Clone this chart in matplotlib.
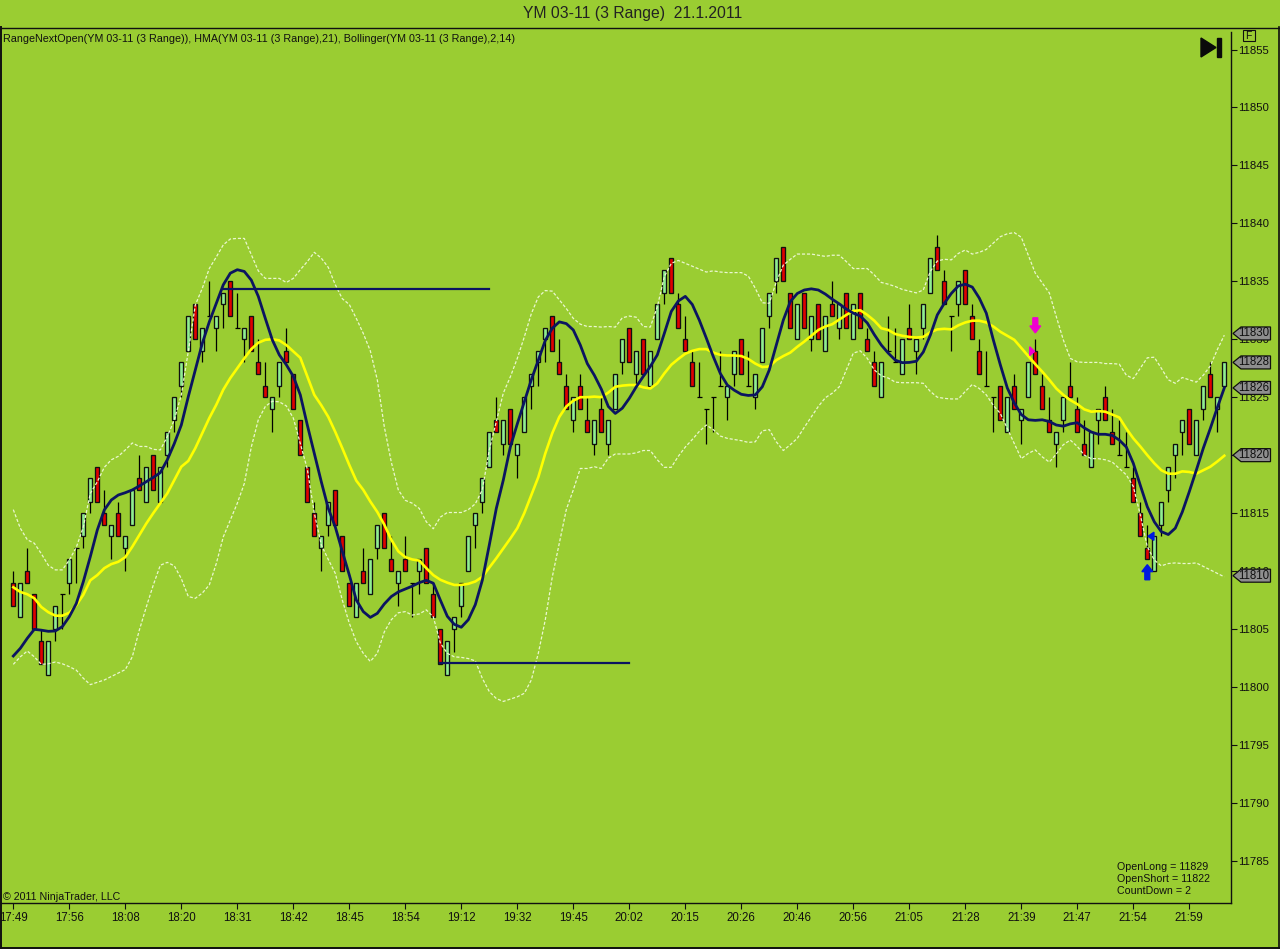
import matplotlib
matplotlib.use("Agg")
import matplotlib.pyplot as plt
from matplotlib.lines import Line2D
from matplotlib.patches import Polygon, Rectangle

plt.rcParams['font.family'] = ['Liberation Sans', 'DejaVu Sans']

opens = [
    11809, 11806, 11810, 11808, 11804, 11801, 11805, 11808, 11809, 11812,
    11813, 11816, 11819, 11815, 11813, 11815, 11812, 11814, 11818, 11816,
    11820, 11816, 11820, 11823, 11826, 11829, 11833, 11829, 11832, 11831,
    11833, 11835, 11831, 11830, 11832, 11828, 11826, 11824, 11826, 11829,
    11827, 11823, 11819, 11815, 11812, 11814, 11817, 11813, 11809, 11806,
    11810, 11808, 11812, 11815, 11811, 11809, 11811, 11809, 11810, 11812,
    11808, 11805, 11801, 11805, 11807, 11810, 11814, 11816, 11819, 11823,
    11821, 11824, 11820, 11822, 11826, 11828, 11830, 11832, 11828, 11826,
    11823, 11826, 11823, 11821, 11824, 11821, 11824, 11828, 11831, 11827,
    11830, 11826, 11830, 11834, 11837, 11833, 11830, 11828, 11825, 11824,
    11825, 11826, 11825, 11827, 11830, 11826, 11825, 11828, 11832, 11835,
    11838, 11834, 11830, 11834, 11830, 11833, 11829, 11833, 11831, 11834,
    11830, 11834, 11830, 11828, 11825, 11829, 11828, 11827, 11831, 11829,
    11831, 11834, 11838, 11835, 11832, 11833, 11836, 11832, 11829, 11826,
    11825, 11826, 11822, 11826, 11823, 11825, 11829, 11826, 11823, 11821,
    11823, 11826, 11824, 11821, 11819, 11823, 11825, 11822, 11820, 11819,
    11818, 11815, 11812, 11810, 11814, 11817, 11820, 11822, 11824, 11820,
    11824, 11827, 11824, 11826,
]
closes = [
    11807, 11809, 11809, 11805, 11802, 11804, 11807, 11808, 11811, 11812,
    11815, 11818, 11816, 11814, 11814, 11813, 11813, 11817, 11817, 11819,
    11817, 11819, 11822, 11825, 11828, 11832, 11830, 11831, 11832, 11832,
    11834, 11832, 11831, 11831, 11829, 11827, 11825, 11825, 11828, 11828,
    11824, 11820, 11816, 11813, 11813, 11816, 11814, 11810, 11807, 11809,
    11809, 11811, 11814, 11812, 11810, 11810, 11810, 11809, 11811, 11809,
    11806, 11802, 11804, 11806, 11809, 11813, 11815, 11818, 11822, 11822,
    11823, 11821, 11821, 11825, 11827, 11829, 11831, 11829, 11827, 11824,
    11825, 11824, 11822, 11823, 11822, 11823, 11827, 11830, 11828, 11829,
    11827, 11829, 11833, 11836, 11834, 11831, 11829, 11826, 11825, 11824,
    11825, 11826, 11826, 11829, 11827, 11826, 11827, 11831, 11834, 11837,
    11835, 11831, 11833, 11831, 11832, 11830, 11832, 11832, 11833, 11831,
    11833, 11831, 11829, 11826, 11828, 11829, 11828, 11830, 11830, 11830,
    11833, 11837, 11836, 11833, 11832, 11835, 11833, 11830, 11827, 11826,
    11825, 11823, 11825, 11824, 11824, 11828, 11827, 11824, 11822, 11822,
    11825, 11825, 11822, 11820, 11822, 11824, 11823, 11821, 11820, 11819,
    11816, 11813, 11811, 11813, 11816, 11819, 11821, 11823, 11821, 11823,
    11826, 11825, 11825, 11828,
]
highs = [
    11810, 11809, 11812, 11808, 11805, 11804, 11807, 11808, 11811, 11812,
    11815, 11818, 11819, 11817, 11814, 11816, 11813, 11817, 11820, 11819,
    11820, 11819, 11822, 11825, 11828, 11832, 11833, 11831, 11835, 11832,
    11834, 11835, 11834, 11831, 11832, 11830, 11828, 11825, 11828, 11831,
    11827, 11823, 11819, 11816, 11813, 11816, 11817, 11813, 11809, 11809,
    11812, 11811, 11814, 11815, 11813, 11810, 11813, 11809, 11811, 11812,
    11809, 11805, 11804, 11806, 11809, 11813, 11815, 11818, 11822, 11825,
    11823, 11824, 11821, 11825, 11827, 11829, 11831, 11832, 11830, 11827,
    11825, 11827, 11825, 11823, 11825, 11823, 11827, 11830, 11831, 11829,
    11830, 11829, 11833, 11836, 11837, 11834, 11832, 11829, 11828, 11824,
    11825, 11829, 11826, 11829, 11830, 11829, 11827, 11831, 11834, 11837,
    11838, 11834, 11833, 11834, 11832, 11833, 11832, 11835, 11833, 11834,
    11833, 11834, 11831, 11829, 11828, 11832, 11831, 11830, 11833, 11830,
    11833, 11837, 11839, 11836, 11832, 11835, 11836, 11833, 11830, 11829,
    11825, 11826, 11825, 11827, 11824, 11828, 11830, 11827, 11825, 11822,
    11825, 11828, 11825, 11823, 11822, 11824, 11826, 11824, 11823, 11822,
    11819, 11816, 11814, 11813, 11816, 11819, 11821, 11823, 11824, 11823,
    11826, 11828, 11825, 11828,
]
lows = [
    11807, 11806, 11809, 11805, 11802, 11801, 11804, 11805, 11808, 11809,
    11812, 11815, 11816, 11814, 11811, 11813, 11810, 11814, 11817, 11816,
    11817, 11816, 11819, 11822, 11825, 11829, 11830, 11828, 11832, 11829,
    11831, 11832, 11831, 11828, 11829, 11827, 11825, 11822, 11825, 11828,
    11824, 11820, 11816, 11813, 11810, 11813, 11814, 11810, 11807, 11806,
    11809, 11808, 11811, 11812, 11810, 11807, 11810, 11806, 11808, 11809,
    11806, 11802, 11801, 11803, 11806, 11810, 11812, 11815, 11819, 11822,
    11820, 11821, 11818, 11822, 11824, 11826, 11828, 11829, 11827, 11824,
    11822, 11824, 11822, 11820, 11822, 11820, 11824, 11827, 11828, 11826,
    11827, 11826, 11830, 11833, 11834, 11831, 11829, 11826, 11825, 11821,
    11822, 11826, 11823, 11826, 11827, 11826, 11824, 11828, 11831, 11834,
    11835, 11831, 11830, 11831, 11829, 11830, 11829, 11832, 11830, 11831,
    11830, 11831, 11829, 11826, 11825, 11829, 11828, 11827, 11830, 11827,
    11830, 11834, 11836, 11833, 11829, 11832, 11833, 11830, 11827, 11826,
    11822, 11823, 11822, 11824, 11821, 11825, 11827, 11824, 11822, 11819,
    11822, 11825, 11822, 11820, 11819, 11821, 11823, 11821, 11820, 11819,
    11816, 11813, 11811, 11810, 11813, 11816, 11818, 11820, 11821, 11820,
    11823, 11825, 11822, 11826,
]

navy_line = [
    11802.67, 11803.33, 11804.2, 11804.97, 11804.9, 11804.8, 11804.83, 11805.2, 11806.06, 11807.2,
    11809.08, 11811.24, 11813.54, 11815.27, 11816.13, 11816.56, 11816.76, 11817, 11817.34, 11817.71,
    11818.08, 11818.49, 11819.6, 11821, 11822.6, 11825.05, 11827.35, 11829.65, 11831.5, 11833.1,
    11834.7, 11835.7, 11836, 11835.85, 11835.1, 11833.7, 11831.8, 11829.95, 11828.65, 11827.8,
    11826.8, 11825.2, 11822.6, 11820.15, 11817.7, 11815.4, 11813.8, 11811.7, 11809.66, 11807.5,
    11806.5, 11806, 11806.35, 11807.16, 11807.8, 11808.2, 11808.45, 11808.7, 11809, 11809.2,
    11808.95, 11807.5, 11806.1, 11805.4, 11805.15, 11805.8, 11807.1, 11809.2, 11812.25, 11815.4,
    11817.85, 11820.7, 11822.7, 11824.6, 11826.5, 11828.2, 11829.9, 11830.95, 11831.5, 11831.35,
    11830.8, 11829.5, 11827.9, 11826.9, 11825.7, 11824.2, 11823.6, 11824.05, 11824.9, 11825.9,
    11826.8, 11827.65, 11828.65, 11830.5, 11832.4, 11833.3, 11833.7, 11833, 11831.65, 11830.1,
    11828.5, 11827.05, 11826.05, 11825.6, 11825.25, 11825.15, 11825.2, 11825.9, 11827.35, 11829.5,
    11831.65, 11833.25, 11833.95, 11834.25, 11834.35, 11834.25, 11833.9, 11833.45, 11833.05, 11832.6,
    11832.25, 11832, 11831.4, 11830.4, 11829.5, 11828.8, 11828.2, 11827.98, 11828, 11828.1,
    11828.9, 11830.35, 11832.1, 11833.1, 11833.95, 11834.6, 11834.75, 11834.5, 11833.55, 11832.25,
    11829.95, 11827.8, 11825.8, 11824.5, 11823.5, 11823.05, 11823, 11823.05, 11822.9, 11822.6,
    11822.5, 11822.7, 11822.8, 11822.35, 11822, 11821.8, 11821.8, 11821.7, 11821.3, 11820.7,
    11819.3, 11817.4, 11815.55, 11814.25, 11813.4, 11813.15, 11813.7, 11815.1, 11816.85, 11818.7,
    11820.6, 11822.3, 11824.1, 11825.8,
]
yellow_line = [
    11808.6, 11808.2, 11808, 11807.65, 11806.9, 11806.45, 11806.15, 11806.15, 11806.4, 11807.05,
    11807.95, 11809.2, 11809.65, 11810.25, 11810.6, 11810.8, 11811.2, 11812.1, 11813.1, 11814.1,
    11815, 11815.85, 11816.7, 11817.85, 11819, 11819.5, 11820.6, 11821.9, 11823.2, 11824.35,
    11825.65, 11826.65, 11827.5, 11828.35, 11829.15, 11829.7, 11829.95, 11830, 11829.9, 11829.5,
    11828.95, 11828.4, 11826.8, 11825.2, 11824.3, 11823.3, 11822, 11820.6, 11819.15, 11817.8,
    11817, 11816, 11815.1, 11814, 11812.7, 11811.7, 11811.2, 11811, 11810.9, 11810.25,
    11809.65, 11809.25, 11809, 11808.8, 11808.8, 11808.9, 11809.1, 11809.5, 11810.3, 11811.1,
    11811.95, 11812.8, 11813.7, 11815, 11816.55, 11818.1, 11820.15, 11821.9, 11823.3, 11824.2,
    11824.7, 11825, 11825, 11825.05, 11825, 11825.4, 11825.9, 11826, 11826.05, 11826.05,
    11825.85, 11825.75, 11826.2, 11827.05, 11827.8, 11828.3, 11828.75, 11829, 11829.15, 11829.15,
    11828.85, 11828.65, 11828.6, 11828.6, 11828.55, 11828.3, 11827.9, 11827.6, 11827.65, 11828.2,
    11828.55, 11828.85, 11829.35, 11829.8, 11830.3, 11830.8, 11831.1, 11831.3, 11831.7, 11832.1,
    11832.45, 11832.5, 11832.1, 11831.6, 11830.95, 11830.8, 11830.45, 11830.3, 11830.2, 11830.15,
    11830.2, 11830.6, 11830.85, 11830.9, 11830.85, 11831.2, 11831.45, 11831.6, 11831.6, 11831.45,
    11831.1, 11830.65, 11830.3, 11829.95, 11829.25, 11828.55, 11827.85, 11827.2, 11826.5, 11825.75,
    11825.2, 11824.75, 11824.4, 11823.95, 11823.75, 11823.8, 11823.75, 11823.5, 11823.25, 11822.3,
    11821.45, 11820.75, 11820, 11819.3, 11818.7, 11818.4, 11818.4, 11818.6, 11818.55, 11818.4,
    11818.7, 11819, 11819.45, 11819.95,
]
upper_band = [
    11815.3, 11813.7, 11812.7, 11812.4, 11811.5, 11810.5, 11810.1, 11810.1, 11810.95, 11812.05,
    11813.8, 11816.7, 11817.7, 11818.95, 11819.6, 11819.9, 11820.45, 11821.05, 11820.75, 11820.75,
    11820.5, 11820.45, 11821.6, 11823.05, 11825.2, 11828.95, 11832.95, 11834.4, 11836.1, 11837.1,
    11838.15, 11838.65, 11838.7, 11838.7, 11837.3, 11835.9, 11835.25, 11835.25, 11835.25, 11834.9,
    11835.25, 11836, 11836.7, 11837.5, 11837, 11836.2, 11834.7, 11833.5, 11833, 11831.8,
    11830.5, 11829, 11826.5, 11822.45, 11819.4, 11817, 11816.1, 11815.85, 11815.4, 11814.25,
    11813.65, 11814.65, 11815.05, 11815.05, 11815.05, 11815.3, 11815.8, 11817, 11820.45, 11822.9,
    11825.35, 11826.75, 11828.35, 11830.2, 11832.2, 11833.65, 11834.2, 11834.15, 11833.4, 11832.65,
    11831.8, 11831.3, 11831.1, 11831.1, 11831.05, 11831.1, 11831.05, 11831.85, 11832, 11831.9,
    11831.1, 11831.05, 11832.8, 11835.4, 11836.55, 11836.8, 11836.55, 11836.3, 11836.05, 11835.8,
    11835.9, 11835.8, 11835.75, 11835.75, 11835.75, 11835.45, 11834.4, 11833.15, 11833.1, 11834.95,
    11836.4, 11836.9, 11837.35, 11837.35, 11837.35, 11837.25, 11837.15, 11837.25, 11837.25, 11836.7,
    11836.1, 11836.1, 11836.1, 11835.55, 11834.9, 11834.75, 11834.55, 11834.3, 11834.15, 11834,
    11834.25, 11835.85, 11836.75, 11836.9, 11836.85, 11837.4, 11837.7, 11837.35, 11837.5, 11837.75,
    11838.3, 11838.85, 11839.1, 11839.2, 11838.8, 11837.25, 11835.7, 11834.85, 11834, 11831.95,
    11829.95, 11828.35, 11828.05, 11828, 11828, 11828, 11827.9, 11827.9, 11827.85, 11826.9,
    11826.6, 11827.5, 11828.4, 11828.45, 11827.5, 11826.5, 11826.2, 11826.7, 11826.5, 11826.3,
    11826.9, 11827.7, 11829.1, 11830.35,
]
lower_band = [
    11801.95, 11802.6, 11803.1, 11802.6, 11801.95, 11802, 11802.15, 11802, 11801.75, 11801.45,
    11800.75, 11800.2, 11800.4, 11800.6, 11800.9, 11801.2, 11801.5, 11802.6, 11804.9, 11806.9,
    11808.8, 11810.5, 11810.75, 11810.45, 11809.35, 11807.8, 11807.65, 11808.1, 11808.8, 11810.65,
    11812.95, 11814.4, 11815.85, 11817.55, 11820.7, 11823.05, 11824.2, 11824.65, 11824.6, 11824.25,
    11823.2, 11821, 11818.8, 11815, 11812.25, 11811, 11809.8, 11807.5, 11805.5, 11803.9,
    11802.9, 11802.2, 11802.9, 11804.75, 11805.8, 11806.4, 11806.5, 11806.2, 11806.3, 11806.65,
    11806.05, 11803.8, 11802.9, 11802.6, 11802.55, 11802.45, 11802.25, 11800.75, 11799.6, 11799,
    11798.75, 11798.95, 11799.15, 11799.45, 11800.6, 11802.9, 11805.8, 11809.5, 11812.4, 11815.3,
    11817, 11818.85, 11818.85, 11819, 11818.85, 11819.75, 11820.1, 11820.1, 11820.1, 11820.2,
    11820.4, 11820.4, 11819.6, 11818.95, 11818.95, 11819.9, 11820.7, 11821.35, 11822.05, 11822.6,
    11822.2, 11821.65, 11821.45, 11821.35, 11821.25, 11821.1, 11821.15, 11822.1, 11822.2, 11821.15,
    11820.4, 11820.9, 11821.45, 11822.4, 11823.3, 11824.2, 11824.95, 11825.35, 11825.9, 11827.35,
    11828.8, 11829, 11828.35, 11827.35, 11826.85, 11826.65, 11826.3, 11826.25, 11826.25, 11826.25,
    11826.2, 11825.5, 11825, 11824.9, 11824.85, 11824.85, 11825.5, 11826.1, 11825.75, 11825.2,
    11824.3, 11823.6, 11822.3, 11821, 11819.7, 11820.15, 11820.45, 11819.85, 11819.4, 11820.1,
    11820.9, 11821.3, 11820.75, 11820, 11819.7, 11819.7, 11819.6, 11819.4, 11818.85, 11818.3,
    11817.3, 11814.85, 11812.1, 11810.95, 11810.45, 11810.65, 11810.7, 11810.65, 11810.65, 11810.7,
    11810.4, 11810.1, 11809.8, 11809.5,
]

time_labels = ["17:49", "17:56", "18:08", "18:20", "18:31", "18:42", "18:45", "18:54",
               "19:12", "19:32", "19:45", "20:02", "20:15", "20:26", "20:46", "20:56",
               "21:05", "21:28", "21:39", "21:47", "21:54", "21:59"]
price_ticks = list(range(11785, 11860, 5))
tag_prices = [11830.5, 11828.0, 11825.8, 11820.0, 11809.6]
tag_labels = ["11830", "11828", "11826", "11820", "11810"]

BG = '#9ACD32'
NAVY = '#0B1560'
INK = '#101010'
W, H = 1280, 949
LEFT, RIGHT, TOP, BOTTOM = 0, 1231, 27, 903


# pixel position of the first bar and spacing, used to set the limits
def bar_x(px):
    return (px - 13.3) / 7.0


def price_y(py):
    return 11855 - (py - 49.5) / 11.59


fig = plt.figure(figsize=(W / 100, H / 100), dpi=100, facecolor=BG)
ax = fig.add_axes([LEFT / W, 1 - BOTTOM / H, (RIGHT - LEFT) / W, (BOTTOM - TOP) / H], facecolor=BG)
ax.set_xlim(bar_x(LEFT), bar_x(RIGHT))
ax.set_ylim(price_y(BOTTOM), price_y(TOP))

# candles
for i in range(len(opens)):
    ax.vlines(i, lows[i], highs[i], color='black', lw=0.9, zorder=2)
    if closes[i] == opens[i]:
        ax.hlines(opens[i], i - 0.36, i + 0.36, color='black', lw=0.9, zorder=2)
    else:
        col = '#90EE90' if closes[i] > opens[i] else '#E00000'
        ax.bar(i, abs(closes[i] - opens[i]), bottom=min(opens[i], closes[i]), width=0.62,
               color=col, edgecolor=INK, linewidth=0.95, zorder=3)

xs = list(range(len(opens)))
ax.plot(xs, upper_band, color='#EAF7CF', lw=0.9, ls=(0, (2.5, 1.5)), zorder=4)
ax.plot(xs, lower_band, color='#EAF7CF', lw=0.9, ls=(0, (2.5, 1.5)), zorder=4)
ax.plot(xs, yellow_line, color='#FFFF00', lw=1.9, zorder=5)
ax.plot(xs, navy_line, color=NAVY, lw=2.0, zorder=6)

# the two horizontal levels
ax.plot([30, 68], [11834.3, 11834.3], color=NAVY, lw=1.6, zorder=6)
ax.plot([61, 88], [11802.05, 11802.05], color=NAVY, lw=1.6, zorder=6)

# signal arrows
ax.arrow(146, 11831.85, 0, -1.3, width=0.7, head_width=1.55, head_length=0.6,
         length_includes_head=True, color='#F000D0', zorder=7)
ax.arrow(162, 11809.25, 0, 1.3, width=0.7, head_width=1.55, head_length=0.6,
         length_includes_head=True, color='#0018E0', zorder=7)
ax.add_patch(Polygon([(145.2, 11829.35), (145.2, 11828.6), (145.9, 11828.95)], color='#F000D0', zorder=7))
ax.add_patch(Polygon([(162.95, 11813.35), (162.95, 11812.65), (162.1, 11813.0)], color='#0018E0', zorder=7))

ax.set_xticks(range(0, 8 * len(time_labels), 8))
ax.set_xticklabels(time_labels)
ax.yaxis.tick_right()
ax.set_yticks(price_ticks)
ax.set_yticklabels([str(p) for p in price_ticks])
ax.tick_params(axis='x', length=4.3, width=0.8, labelsize=8.3, pad=2.5, colors=INK)
ax.tick_params(axis='y', length=4.3, width=0.8, labelsize=8.2, pad=0.5, colors=INK)
for s in ax.spines.values():
    s.set_linewidth(1.0)
    s.set_color(INK)
ax.spines['top'].set_visible(False)
ax.spines['left'].set_visible(False)
ax.spines['right'].set_bounds(price_y(BOTTOM), price_y(32))

# right side price tags, drawn over the tick labels
half_h = 6.5 / 11.59
for p, lab in zip(tag_prices, tag_labels):
    x0, x1, x2 = bar_x(1233), bar_x(1241), bar_x(1270.5)
    ax.add_patch(Polygon([(x0, p), (x1, p + half_h), (x2, p + half_h), (x2, p - half_h), (x1, p - half_h)],
                         facecolor='#8E8E8E', edgecolor=INK, lw=0.9, clip_on=False, zorder=8))
    ax.text(bar_x(1254), p, lab, fontsize=8.3, color=INK, ha='center', va='center',
            clip_on=False, zorder=9)

# frame lines outside the axes
tr = fig.transFigure
fig.add_artist(Line2D([0, 1], [1 - 27.5 / H, 1 - 27.5 / H], color=INK, lw=1.0, transform=tr))
fig.add_artist(Line2D([0.6 / W, 0.6 / W], [1 - 27 / H, 0], color=INK, lw=1.4, transform=tr))
fig.add_artist(Line2D([0, 1], [0.8 / H, 0.8 / H], color=INK, lw=1.4, transform=tr))
fig.add_artist(Line2D([1 - 0.6 / W, 1 - 0.6 / W], [1 - 27 / H, 0], color=INK, lw=1.2, transform=tr))

# end-of-chart button and the F box
ax_px = fig.add_axes([0, 0, 1, 1], facecolor='none')
ax_px.set_xlim(0, W)
ax_px.set_ylim(H, 0)
ax_px.axis('off')
ax_px.add_patch(Polygon([(1201, 38), (1201, 57), (1216, 47.5)], color='#0A0A0A'))
ax_px.add_patch(Rectangle((1217, 38), 3.5, 19, color='#0A0A0A'))
ax_px.add_patch(Rectangle((1242.7, 29.5), 12, 11.5, facecolor='none', edgecolor=INK, lw=0.8))
ax_px.text(1248.7, 35.5, "F", fontsize=7.5, ha='center', va='center', color=INK)

ax_px.text(632.5, 13, "YM 03-11 (3 Range)  21.1.2011", fontsize=11.3, ha='center', va='center', color='#222222')
ax_px.text(3, 39, "RangeNextOpen(YM 03-11 (3 Range)), HMA(YM 03-11 (3 Range),21), Bollinger(YM 03-11 (3 Range),2,14)",
           fontsize=7.75, ha='left', va='center', color=INK)
ax_px.text(3, 897, "\u00a9 2011 NinjaTrader, LLC", fontsize=7.7, ha='left', va='center', color=INK)
ax_px.text(1117, 867.5, "OpenLong = 11829", fontsize=7.7, ha='left', va='center', color=INK)
ax_px.text(1117, 879.5, "OpenShort = 11822", fontsize=7.7, ha='left', va='center', color=INK)
ax_px.text(1117, 891.5, "CountDown = 2", fontsize=7.7, ha='left', va='center', color=INK)

fig.savefig("out.png", dpi=100, facecolor=BG)
